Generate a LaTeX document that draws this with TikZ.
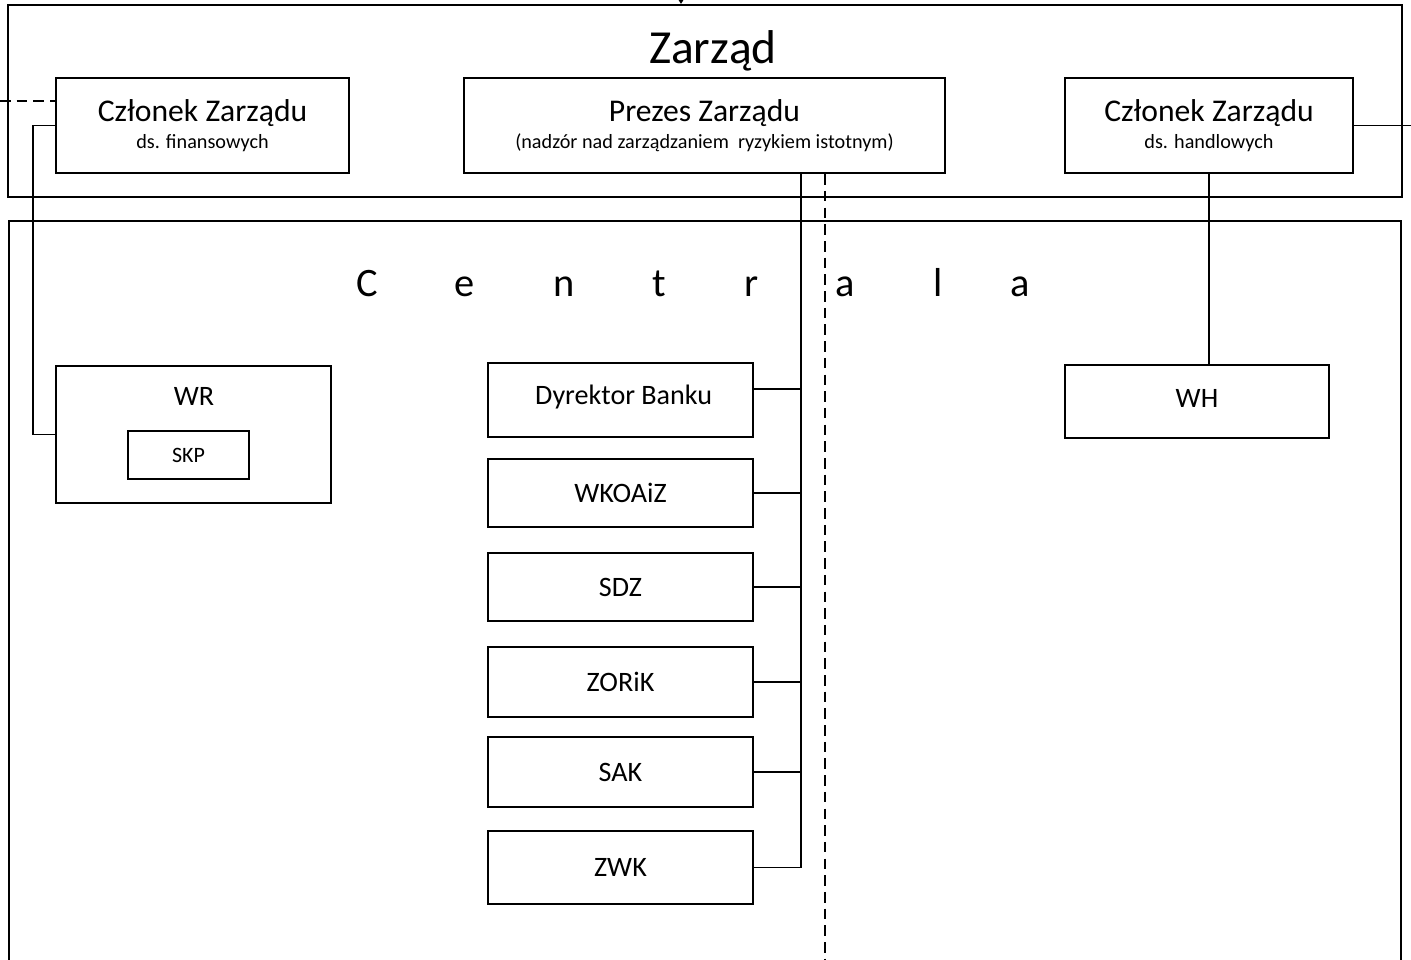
\documentclass[tikz,border=0pt]{standalone}
\usepackage{fontspec}
\setmainfont{Carlito}
\usetikzlibrary{arrows.meta}
\tikzset{
  unitbox/.style={draw,line width=1.45pt,inner sep=0pt,align=center,font=\fontsize{16}{18}\selectfont},
  member/.style={unitbox,minimum height=1.9cm,font=\fontsize{18}{18}\selectfont},
  frame/.style={draw,line width=1.3pt,inner sep=0pt},
  link/.style={line width=1pt},
  dashline/.style={line width=1pt,dash pattern=on 6pt off 3.5pt}
}
\newcommand{\subline}[1]{{\fontsize{11.5}{13}\selectfont #1}}
\begin{document}
\begin{tikzpicture}[x=0.02cm,y=-0.02cm]
  \useasboundingbox (0,0) rectangle (1411,960);
  % Zarzad
  \node (zarzad) [frame,minimum width=27.88cm,minimum height=3.84cm] at (705,101) {};
  \node (zarzadtitle) [anchor=base,font=\fontsize{27}{27}\selectfont] at (713,63) {Zarząd};
  \coordinate (top) at (681,0);
  \draw[link,-{Triangle[length=2.5pt,width=3pt]}] (top) -- (top |- zarzad.north);
  \node (fin) [member,minimum width=5.86cm] at (202.5,125.5) {Członek Zarządu\\[-3pt]\subline{ds. finansowych}};
  \node (prezes) [member,minimum width=9.62cm] at (704.5,125.5) {Prezes Zarządu\\[-3pt]\subline{(nadzór nad zarządzaniem\ \ ryzykiem istotnym)}};
  \node (handl) [member,minimum width=5.76cm] at (1209,125.5) {Członek Zarządu\\[-3pt]\subline{ds. handlowych}};
  % Centrala
  \draw[link] (9,960) -- (9,221) -- (1401,221) -- (1401,960);
  \foreach \ch/\x [count=\i] in {C/367,e/465,n/564,t/659,r/752,a/845,l/938,a/1020}
    \node (centrala\i) [anchor=base,font=\fontsize{23}{23}\selectfont] at (\x,296) {\ch};
  \node (wr) [unitbox,minimum width=5.5cm,minimum height=2.74cm] at (193.5,434.5) {};
  \node (wrname) [font=\fontsize{16}{18}\selectfont] at (194,396) {WR};
  \node (skp) [unitbox,minimum width=2.42cm,minimum height=0.96cm,font=\fontsize{12.5}{14}\selectfont] at (188.5,455) {SKP};
  \node (wh) [unitbox,minimum width=5.28cm,minimum height=1.46cm] at (1197,401.5) {\raisebox{3pt}{WH}};
  \node (dyr) [unitbox,minimum width=5.3cm,minimum height=1.48cm] at (620.5,400) {\raisebox{6pt}{\ Dyrektor Banku}};
  \node (wko) [unitbox,minimum width=5.3cm,minimum height=1.36cm] at (620.5,493) {WKOAiZ};
  \node (sdz) [unitbox,minimum width=5.3cm,minimum height=1.36cm] at (620.5,587) {SDZ};
  \node (zor) [unitbox,minimum width=5.3cm,minimum height=1.4cm] at (620.5,682) {ZORiK};
  \node (sak) [unitbox,minimum width=5.3cm,minimum height=1.4cm] at (620.5,772) {SAK};
  \node (zwk) [unitbox,minimum width=5.3cm,minimum height=1.46cm] at (620.5,867.5) {ZWK};
  % connectors
  \coordinate (trunk) at (801,173);
  \coordinate (cut) at (825,960);
  \coordinate (lrail) at (33,0);
  \coordinate (lout) at (0,101);
  \coordinate (rout) at (1411,125.5);
  \draw[link] (trunk) -- (trunk |- zwk.east) -- (zwk.east);
  \draw[link] ([yshift=0.22cm]dyr.east) -- ([yshift=0.22cm]dyr.east -| trunk);
  \foreach \b in {wko,sdz,zor,sak}
    \draw[link] (\b.east) -- (\b.east -| trunk);
  \draw[dashline] (prezes.south -| cut) -- (cut);
  \draw[dashline] (lout) -- (lout -| fin.west);
  \draw[link] (fin.west) -- (fin.west -| lrail) -- (lrail |- wr.west) -- (wr.west);
  \draw[link] (handl.east) -- (rout);
  \draw[link] (handl.south) -- (handl.south |- wh.north);
\end{tikzpicture}
\end{document}
